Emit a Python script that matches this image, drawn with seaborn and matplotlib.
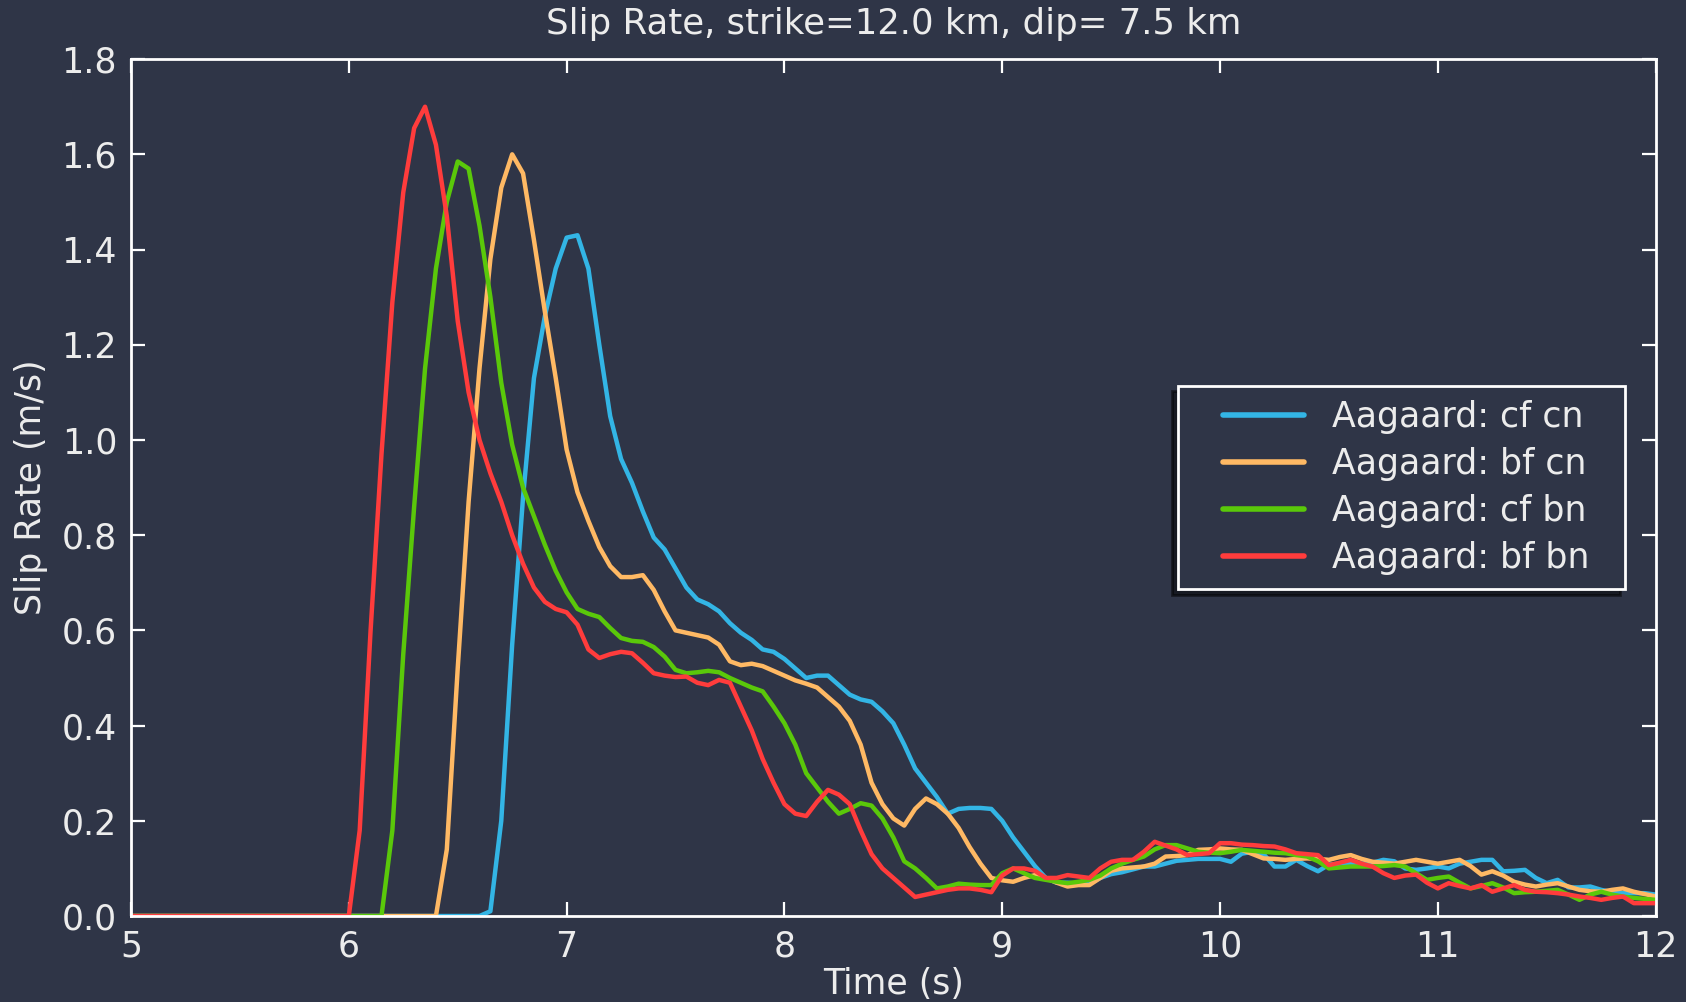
import numpy as np
import pandas as pd
import matplotlib
matplotlib.use('Agg')
import matplotlib.pyplot as plt
import seaborn as sns

# slip rate samples every 0.05 s from 5.0 s to 12.0 s (10 per row = 0.5 s)
cf_cn = [
    0, 0, 0, 0, 0, 0, 0, 0, 0, 0,                                   # 5.0
    0, 0, 0, 0, 0, 0, 0, 0, 0, 0,                                   # 5.5
    0, 0, 0, 0, 0, 0, 0, 0, 0, 0,                                   # 6.0
    0, 0, 0, 0.01, 0.2, 0.57, 0.88, 1.13, 1.26, 1.36,               # 6.5
    1.425, 1.43, 1.36, 1.2, 1.05, 0.96, 0.91, 0.85, 0.795, 0.77,    # 7.0
    0.73, 0.69, 0.665, 0.655, 0.64, 0.615, 0.595, 0.58, 0.56, 0.555,  # 7.5
    0.54, 0.52, 0.5, 0.505, 0.505, 0.485, 0.465, 0.455, 0.45, 0.43,   # 8.0
    0.405, 0.36, 0.31, 0.28, 0.25, 0.215, 0.225, 0.227, 0.227, 0.225,  # 8.5
    0.2, 0.165, 0.135, 0.105, 0.08, 0.07, 0.07, 0.068, 0.068, 0.08,    # 9.0
    0.088, 0.092, 0.098, 0.104, 0.104, 0.11, 0.116, 0.118, 0.12, 0.12,  # 9.5
    0.12, 0.114, 0.131, 0.135, 0.13, 0.104, 0.104, 0.118, 0.105, 0.094,  # 10.0
    0.108, 0.11, 0.112, 0.11, 0.112, 0.118, 0.115, 0.1, 0.097, 0.1,     # 10.5
    0.104, 0.1, 0.11, 0.114, 0.118, 0.118, 0.094, 0.095, 0.097, 0.08,   # 11.0
    0.069, 0.076, 0.06, 0.06, 0.062, 0.055, 0.05, 0.048, 0.048, 0.048,  # 11.5
    0.045,                                                              # 12.0
]
bf_cn = [
    0, 0, 0, 0, 0, 0, 0, 0, 0, 0,
    0, 0, 0, 0, 0, 0, 0, 0, 0, 0,
    0, 0, 0, 0, 0, 0, 0, 0, 0, 0.14,
    0.52, 0.87, 1.15, 1.38, 1.53, 1.6, 1.56, 1.42, 1.27, 1.13,
    0.98, 0.89, 0.83, 0.775, 0.735, 0.712, 0.712, 0.716, 0.685, 0.64,
    0.6, 0.595, 0.59, 0.585, 0.57, 0.535, 0.527, 0.53, 0.525, 0.515,
    0.505, 0.495, 0.488, 0.48, 0.46, 0.44, 0.41, 0.36, 0.28, 0.235,
    0.205, 0.19, 0.225, 0.247, 0.235, 0.215, 0.185, 0.145, 0.11, 0.08,
    0.075, 0.072, 0.08, 0.086, 0.08, 0.07, 0.062, 0.065, 0.065, 0.08,
    0.095, 0.1, 0.102, 0.104, 0.11, 0.125, 0.126, 0.128, 0.139, 0.14,
    0.142, 0.14, 0.139, 0.13, 0.121, 0.12, 0.118, 0.12, 0.121, 0.12,
    0.118, 0.124, 0.128, 0.12, 0.114, 0.112, 0.11, 0.114, 0.118, 0.114,
    0.11, 0.114, 0.118, 0.105, 0.087, 0.094, 0.085, 0.072, 0.066, 0.062,
    0.066, 0.069, 0.062, 0.055, 0.052, 0.051, 0.055, 0.058, 0.051, 0.046,
    0.041,
]
cf_bn = [
    0, 0, 0, 0, 0, 0, 0, 0, 0, 0,
    0, 0, 0, 0, 0, 0, 0, 0, 0, 0,
    0, 0, 0, 0, 0.18, 0.55, 0.86, 1.15, 1.36, 1.5,
    1.585, 1.57, 1.45, 1.3, 1.12, 0.99, 0.9, 0.84, 0.78, 0.725,
    0.68, 0.645, 0.635, 0.628, 0.605, 0.584, 0.578, 0.576, 0.565, 0.545,
    0.517, 0.51, 0.512, 0.515, 0.512, 0.5, 0.49, 0.48, 0.472, 0.44,
    0.405, 0.36, 0.3, 0.27, 0.24, 0.215, 0.225, 0.237, 0.232, 0.205,
    0.165, 0.115, 0.1, 0.08, 0.058, 0.062, 0.068, 0.066, 0.065, 0.065,
    0.09, 0.1, 0.09, 0.08, 0.076, 0.072, 0.069, 0.072, 0.076, 0.085,
    0.1, 0.11, 0.118, 0.125, 0.14, 0.149, 0.149, 0.142, 0.135, 0.133,
    0.132, 0.135, 0.139, 0.137, 0.135, 0.133, 0.132, 0.128, 0.125, 0.115,
    0.1, 0.102, 0.104, 0.104, 0.104, 0.105, 0.107, 0.104, 0.09, 0.076,
    0.08, 0.083, 0.07, 0.058, 0.063, 0.069, 0.06, 0.048, 0.05, 0.051,
    0.053, 0.055, 0.045, 0.034, 0.045, 0.051, 0.045, 0.041, 0.038, 0.036,
    0.034,
]
bf_bn = [
    0, 0, 0, 0, 0, 0, 0, 0, 0, 0,
    0, 0, 0, 0, 0, 0, 0, 0, 0, 0,
    0, 0.18, 0.6, 0.97, 1.29, 1.52, 1.655, 1.70, 1.62, 1.47,
    1.25, 1.1, 1.0, 0.93, 0.87, 0.8, 0.74, 0.69, 0.66, 0.645,
    0.638, 0.612, 0.56, 0.542, 0.55, 0.555, 0.552, 0.532, 0.51, 0.505,
    0.502, 0.503, 0.49, 0.485, 0.496, 0.49, 0.44, 0.39, 0.33, 0.28,
    0.235, 0.215, 0.21, 0.24, 0.265, 0.255, 0.235, 0.18, 0.13, 0.1,
    0.08, 0.06, 0.04, 0.045, 0.05, 0.055, 0.058, 0.058, 0.055, 0.05,
    0.085, 0.1, 0.1, 0.095, 0.08, 0.08, 0.086, 0.083, 0.08, 0.1,
    0.114, 0.118, 0.118, 0.135, 0.156, 0.148, 0.14, 0.128, 0.13, 0.132,
    0.153, 0.153, 0.15, 0.149, 0.147, 0.146, 0.14, 0.132, 0.13, 0.128,
    0.107, 0.112, 0.118, 0.11, 0.104, 0.09, 0.08, 0.085, 0.087, 0.07,
    0.058, 0.069, 0.063, 0.058, 0.065, 0.051, 0.058, 0.065, 0.055, 0.051,
    0.05, 0.048, 0.045, 0.041, 0.038, 0.034, 0.038, 0.041, 0.027, 0.027,
    0.027,
]

labels = ['Aagaard: cf cn', 'Aagaard: bf cn', 'Aagaard: cf bn', 'Aagaard: bf bn']
colors = ['#33b5e5', '#ffb964', '#5ac80a', '#ff3c3c']
series = [cf_cn, bf_cn, cf_bn, bf_bn]

t0, dt = 5.0, 0.05
frames = []
for lab, vals in zip(labels, series):
    n = len(vals)
    frames.append(pd.DataFrame({'time': t0 + dt * np.arange(n), 'rate': vals, 'run': lab}))
df = pd.concat(frames, ignore_index=True)

bg = '#2f3547'
fg = '#ececec'
sns.set_theme(style='dark', rc={
    'axes.facecolor': bg, 'figure.facecolor': bg, 'axes.edgecolor': 'white',
    'axes.linewidth': 1.0, 'text.color': fg, 'axes.labelcolor': fg,
    'xtick.color': 'white', 'ytick.color': 'white',
    'xtick.labelcolor': fg, 'ytick.labelcolor': fg,
    'xtick.direction': 'in', 'ytick.direction': 'in',
    'xtick.top': True, 'ytick.right': True,
    'xtick.bottom': True, 'ytick.left': True,
    'xtick.major.size': 5, 'ytick.major.size': 5,
    'xtick.major.width': 0.8, 'ytick.major.width': 0.8,
    'axes.grid': False,
})
plt.rcParams['font.family'] = ['DejaVu Sans']

fig = plt.figure(figsize=(8.43, 5.01), dpi=200)
ax = fig.add_axes([0.0777, 0.0858, 0.982 - 0.0777, 0.941 - 0.0858])

sns.lineplot(data=df, x='time', y='rate', hue='run', hue_order=labels,
             palette=colors, estimator=None, linewidth=1.6, ax=ax)

ax.set_xlim(5, 12)
ax.set_ylim(0, 1.8)
ax.set_xticks(range(5, 13))
ax.set_yticks(np.arange(0, 1.81, 0.2))
ax.set_yticklabels([f'{v:.1f}' for v in np.arange(0, 1.81, 0.2)])
ax.tick_params(labelsize=12.5, pad=5)
ax.set_xlabel('Time (s)', fontsize=12.5, labelpad=1)
ax.set_ylabel('Slip Rate (m/s)', fontsize=12.5, labelpad=5)
ax.set_title('Slip Rate, strike=12.0 km, dip= 7.5 km', fontsize=12.8, color=fg, pad=9)

# old-style legend: wide side padding, tight rows
handles, labs = ax.get_legend_handles_labels()
labs = [l + '  ' for l in labs]
leg = ax.legend(handles, labs, loc='center right', bbox_to_anchor=(0.98, 0.5),
                borderaxespad=0, fontsize=12.5, handlelength=3.24,
                labelspacing=0.38, borderpad=0.4,
                frameon=True, fancybox=False,
                facecolor=bg, edgecolor='white', framealpha=1,
                shadow={'ox': -2, 'oy': -2, 'shade': 1.0})
leg.get_frame().set_linewidth(1.0)
for h in leg.get_lines():
    h.set_linewidth(2.0)
    x = np.asarray(h.get_xdata(), dtype=float)
    lo, hi = x.min(), x.max()
    h.set_xdata(np.linspace(lo + (hi - lo) * 0.284, hi, len(x)))
for txt in leg.get_texts():
    txt.set_color(fg)

fig.savefig('out.png', dpi=200, facecolor=bg)
